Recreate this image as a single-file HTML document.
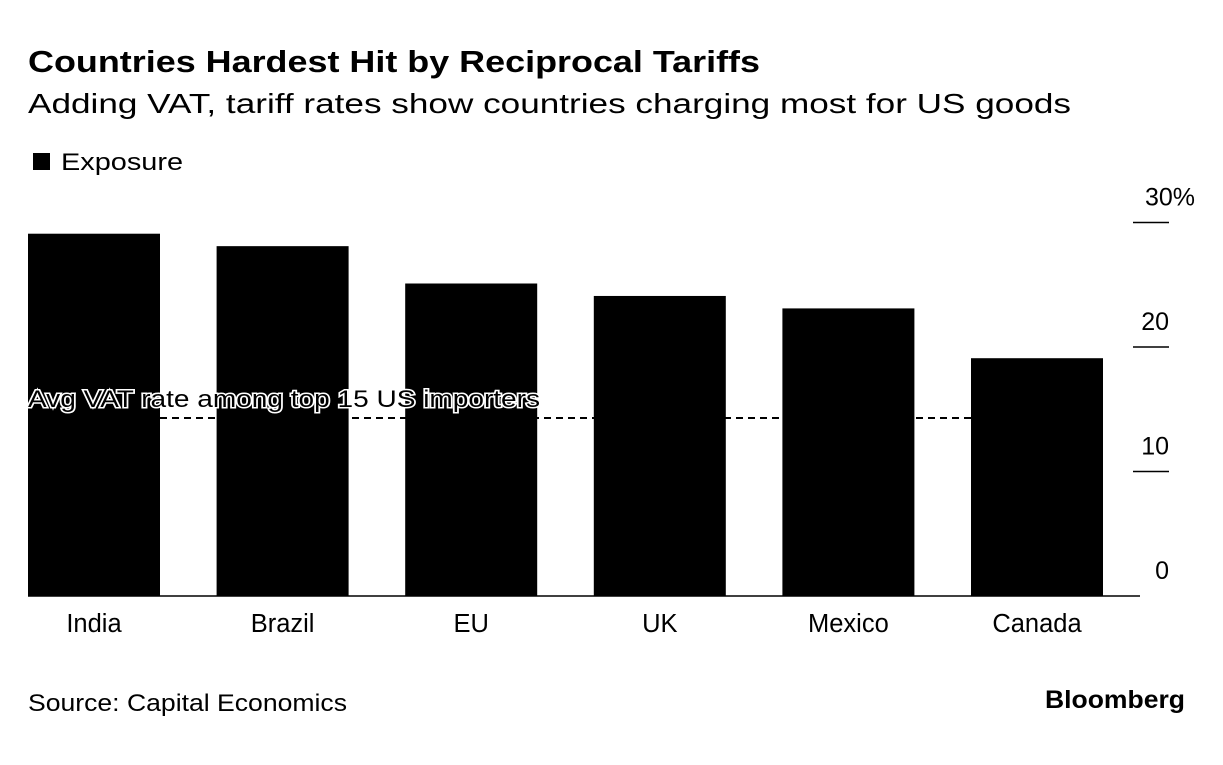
<!DOCTYPE html>
<html><head><meta charset="utf-8"><style>
body{margin:0;width:1223px;height:760px;background:#fff;font-family:"Liberation Sans",sans-serif;overflow:hidden}
svg text{font-family:"Liberation Sans",sans-serif}
</style></head><body>
<svg id="chart" width="1223" height="760">
<text x="28" y="72" font-size="31" font-weight="bold" fill="#000" textLength="732" lengthAdjust="spacingAndGlyphs">Countries Hardest Hit by Reciprocal Tariffs</text>
<text x="28" y="113" font-size="28" fill="#000" textLength="1043" lengthAdjust="spacingAndGlyphs">Adding VAT, tariff rates show countries charging most for US goods</text>
<rect x="33" y="153" width="17" height="17" fill="#000"/>
<text x="61" y="170" font-size="24" fill="#000" textLength="122" lengthAdjust="spacingAndGlyphs">Exposure</text>
<g id="bars"></g>
<g id="axis"></g>
<text x="28" y="711" font-size="24" fill="#000" textLength="319" lengthAdjust="spacingAndGlyphs">Source: Capital Economics</text>
<text x="1185" y="708" font-size="25" font-weight="bold" text-anchor="end" fill="#000" textLength="140" lengthAdjust="spacingAndGlyphs">Bloomberg</text>
</svg>
<script>
const categories=["India","Brazil","EU","UK","Mexico","Canada"];
const values=[29.1,28.1,25.1,24.1,23.1,19.1];
const ticks=[0,10,20,30];
const tickLabels=["0","10","20","30%"];
const avgVat=[14.3];
const NS="http://www.w3.org/2000/svg";
const y0=596,pxPer=12.45;
const y=v=>y0-v*pxPer;
const x=i=>28+i*188.6;
const bw=132;
const bars=document.getElementById('bars'),axis=document.getElementById('axis');
function mk(t,a,p){const e=document.createElementNS(NS,t);for(const k in a)e.setAttribute(k,a[k]);p.appendChild(e);return e;}
categories.forEach((c,i)=>{
 const r=mk('rect',{x:x(i),y:y(values[i]),width:bw,height:y0-y(values[i]),fill:'#000'},bars);
 
 
 const t=mk('text',{x:x(i)+bw/2,y:632,'font-size':25.5,'text-anchor':'middle',fill:'#000'},axis);
 t.textContent=c;
 
 
});
const base=mk('line',{x1:28,x2:1140,y1:y0,y2:y0,stroke:'#000','stroke-width':1.5},axis);


ticks.forEach((v,i)=>{
 if(v>0){const l=mk('line',{x1:1133,x2:1169,y1:y(v),y2:y(v),stroke:'#000','stroke-width':1.5},axis);
 
 }
 const t=mk('text',{x:v===30?1195:1169,y:y(v)-17,'font-size':25,'text-anchor':'end',fill:'#000'},axis);
 t.textContent=tickLabels[i];
 
 
});
const d=mk('line',{x1:28,x2:1103,y1:y(avgVat[0]),y2:y(avgVat[0]),stroke:'#000','stroke-width':2,'stroke-dasharray':'7,5'},axis);


const lt=mk('text',{x:28,y:y(avgVat[0])-11,'font-size':24,fill:'#000',stroke:'#fff','stroke-width':3,'paint-order':'stroke',textLength:512,lengthAdjust:'spacingAndGlyphs'},axis);
lt.textContent="Avg VAT rate among top 15 US importers";


</script>
</body></html>
